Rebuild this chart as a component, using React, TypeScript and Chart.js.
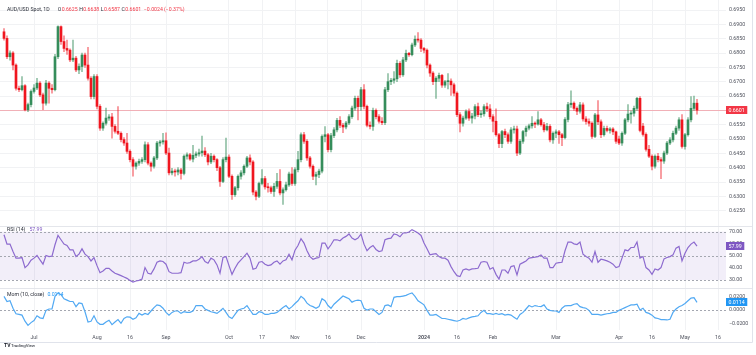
import React, { useEffect, useRef } from 'react';
import { Chart, registerables } from 'chart.js';

Chart.register(...registerables);

// ---- Daily AUD/USD candles (bar index 0 = first visible day) ----
const opens = [
  0.6874, 0.6851, 0.6787, 0.6800, 0.6758, 0.6677, 0.6672, 0.6686, 0.6602, 0.6620,
  0.6666, 0.6678, 0.6695, 0.6654, 0.6625, 0.6695, 0.6677, 0.6672, 0.6787, 0.6892,
  0.6840, 0.6816, 0.6810, 0.6776, 0.6782, 0.6741, 0.6753, 0.6793, 0.6758, 0.6712,
  0.6648, 0.6718, 0.6614, 0.6538, 0.6555, 0.6573, 0.6577, 0.6544, 0.6527, 0.6520,
  0.6498, 0.6486, 0.6457, 0.6428, 0.6405, 0.6416, 0.6422, 0.6428, 0.6480, 0.6416,
  0.6405, 0.6434, 0.6486, 0.6490, 0.6494, 0.6451, 0.6382, 0.6388, 0.6385, 0.6392,
  0.6380, 0.6440, 0.6445, 0.6430, 0.6443, 0.6448, 0.6452, 0.6458, 0.6445, 0.6420,
  0.6440, 0.6428, 0.6400, 0.6352, 0.6428, 0.6437, 0.6370, 0.6306, 0.6330, 0.6370,
  0.6382, 0.6405, 0.6434, 0.6420, 0.6315, 0.6300, 0.6345, 0.6362, 0.6333, 0.6330,
  0.6317, 0.6335, 0.6352, 0.6312, 0.6323, 0.6340, 0.6378, 0.6345, 0.6393, 0.6428,
  0.6515, 0.6492, 0.6434, 0.6405, 0.6370, 0.6376, 0.6388, 0.6509, 0.6515, 0.6463,
  0.6512, 0.6532, 0.6565, 0.6548, 0.6542, 0.6556, 0.6578, 0.6608, 0.6642, 0.6613,
  0.6672, 0.6614, 0.6548, 0.6544, 0.6600, 0.6578, 0.6562, 0.6557, 0.6672, 0.6700,
  0.6705, 0.6710, 0.6764, 0.6724, 0.6776, 0.6799, 0.6794, 0.6828, 0.6848, 0.6845,
  0.6816, 0.6810, 0.6758, 0.6730, 0.6700, 0.6712, 0.6722, 0.6688, 0.6700, 0.6702,
  0.6689, 0.6660, 0.6585, 0.6555, 0.6573, 0.6596, 0.6573, 0.6580, 0.6613, 0.6585,
  0.6588, 0.6613, 0.6605, 0.6578, 0.6562, 0.6515, 0.6484, 0.6526, 0.6515, 0.6492,
  0.6532, 0.6535, 0.6451, 0.6492, 0.6526, 0.6538, 0.6546, 0.6555, 0.6552, 0.6567,
  0.6550, 0.6532, 0.6544, 0.6497, 0.6520, 0.6525, 0.6515, 0.6505, 0.6568, 0.6620,
  0.6625, 0.6607, 0.6597, 0.6619, 0.6570, 0.6561, 0.6555, 0.6509, 0.6584, 0.6560,
  0.6515, 0.6537, 0.6530, 0.6535, 0.6525, 0.6500, 0.6486, 0.6520, 0.6567, 0.6587,
  0.6590, 0.6607, 0.6642, 0.6545, 0.6516, 0.6464, 0.6440, 0.6405, 0.6440, 0.6428,
  0.6423, 0.6451, 0.6486, 0.6497, 0.6520, 0.6538, 0.6567, 0.6474, 0.6515, 0.6567,
  0.6607, 0.6625,
];
const highs = [
  0.6885, 0.6860, 0.6808, 0.6805, 0.6762, 0.6685, 0.6718, 0.6690, 0.6625, 0.6672,
  0.6690, 0.6712, 0.6700, 0.6660, 0.6705, 0.6700, 0.6690, 0.6795, 0.6895, 0.6895,
  0.6860, 0.6845, 0.6815, 0.6845, 0.6788, 0.6762, 0.6800, 0.6800, 0.6820, 0.6718,
  0.6725, 0.6725, 0.6620, 0.6560, 0.6608, 0.6585, 0.6590, 0.6550, 0.6613, 0.6525,
  0.6505, 0.6520, 0.6462, 0.6435, 0.6420, 0.6430, 0.6435, 0.6490, 0.6488, 0.6420,
  0.6440, 0.6492, 0.6495, 0.6520, 0.6522, 0.6468, 0.6398, 0.6395, 0.6400, 0.6398,
  0.6445, 0.6452, 0.6450, 0.6478, 0.6455, 0.6465, 0.6510, 0.6470, 0.6450, 0.6450,
  0.6445, 0.6432, 0.6405, 0.6435, 0.6503, 0.6445, 0.6375, 0.6335, 0.6375, 0.6390,
  0.6410, 0.6440, 0.6445, 0.6425, 0.6320, 0.6350, 0.6393, 0.6370, 0.6345, 0.6336,
  0.6345, 0.6380, 0.6393, 0.6330, 0.6350, 0.6385, 0.6400, 0.6400, 0.6457, 0.6522,
  0.6523, 0.6498, 0.6440, 0.6410, 0.6385, 0.6395, 0.6515, 0.6543, 0.6520, 0.6520,
  0.6540, 0.6572, 0.6578, 0.6555, 0.6562, 0.6585, 0.6615, 0.6650, 0.6650, 0.6680,
  0.6690, 0.6618, 0.6560, 0.6608, 0.6605, 0.6585, 0.6575, 0.6680, 0.6728, 0.6712,
  0.6735, 0.6775, 0.6770, 0.6785, 0.6810, 0.6802, 0.6835, 0.6860, 0.6871, 0.6850,
  0.6820, 0.6815, 0.6762, 0.6735, 0.6718, 0.6730, 0.6726, 0.6705, 0.6728, 0.6710,
  0.6695, 0.6665, 0.6592, 0.6580, 0.6602, 0.6605, 0.6590, 0.6620, 0.6625, 0.6598,
  0.6620, 0.6625, 0.6620, 0.6585, 0.6605, 0.6520, 0.6530, 0.6535, 0.6522, 0.6540,
  0.6545, 0.6545, 0.6498, 0.6530, 0.6545, 0.6552, 0.6578, 0.6560, 0.6596, 0.6572,
  0.6558, 0.6555, 0.6550, 0.6525, 0.6532, 0.6530, 0.6520, 0.6575, 0.6628, 0.6668,
  0.6630, 0.6612, 0.6628, 0.6626, 0.6578, 0.6570, 0.6560, 0.6590, 0.6634, 0.6567,
  0.6545, 0.6545, 0.6540, 0.6540, 0.6528, 0.6510, 0.6525, 0.6572, 0.6620, 0.6598,
  0.6615, 0.6645, 0.6648, 0.6555, 0.6522, 0.6478, 0.6445, 0.6445, 0.6450, 0.6435,
  0.6458, 0.6492, 0.6505, 0.6528, 0.6545, 0.6575, 0.6585, 0.6520, 0.6575, 0.6648,
  0.6650, 0.6638,
];
const lows = [
  0.6845, 0.6780, 0.6775, 0.6741, 0.6670, 0.6665, 0.6668, 0.6598, 0.6595, 0.6612,
  0.6660, 0.6672, 0.6648, 0.6602, 0.6618, 0.6625, 0.6660, 0.6668, 0.6780, 0.6830,
  0.6805, 0.6795, 0.6770, 0.6770, 0.6735, 0.6728, 0.6735, 0.6750, 0.6705, 0.6640,
  0.6640, 0.6605, 0.6530, 0.6530, 0.6548, 0.6565, 0.6503, 0.6520, 0.6515, 0.6490,
  0.6478, 0.6450, 0.6420, 0.6370, 0.6395, 0.6408, 0.6415, 0.6420, 0.6410, 0.6388,
  0.6398, 0.6428, 0.6475, 0.6482, 0.6445, 0.6375, 0.6375, 0.6370, 0.6375, 0.6360,
  0.6375, 0.6430, 0.6425, 0.6420, 0.6435, 0.6440, 0.6440, 0.6438, 0.6410, 0.6414,
  0.6420, 0.6390, 0.6335, 0.6348, 0.6420, 0.6365, 0.6289, 0.6300, 0.6322, 0.6360,
  0.6375, 0.6400, 0.6410, 0.6305, 0.6288, 0.6295, 0.6340, 0.6325, 0.6315, 0.6310,
  0.6300, 0.6328, 0.6305, 0.6272, 0.6318, 0.6335, 0.6338, 0.6338, 0.6385, 0.6420,
  0.6485, 0.6425, 0.6398, 0.6358, 0.6340, 0.6365, 0.6382, 0.6490, 0.6455, 0.6455,
  0.6505, 0.6525, 0.6540, 0.6522, 0.6535, 0.6550, 0.6572, 0.6600, 0.6567, 0.6600,
  0.6605, 0.6542, 0.6535, 0.6530, 0.6570, 0.6555, 0.6550, 0.6550, 0.6665, 0.6690,
  0.6695, 0.6700, 0.6715, 0.6718, 0.6770, 0.6788, 0.6790, 0.6822, 0.6838, 0.6805,
  0.6800, 0.6748, 0.6718, 0.6690, 0.6642, 0.6700, 0.6680, 0.6680, 0.6675, 0.6652,
  0.6650, 0.6578, 0.6525, 0.6545, 0.6568, 0.6565, 0.6555, 0.6570, 0.6578, 0.6575,
  0.6580, 0.6595, 0.6570, 0.6525, 0.6510, 0.6470, 0.6470, 0.6505, 0.6485, 0.6485,
  0.6520, 0.6442, 0.6445, 0.6485, 0.6510, 0.6532, 0.6538, 0.6540, 0.6548, 0.6545,
  0.6525, 0.6528, 0.6490, 0.6485, 0.6505, 0.6485, 0.6477, 0.6500, 0.6560, 0.6610,
  0.6600, 0.6585, 0.6590, 0.6562, 0.6552, 0.6545, 0.6502, 0.6505, 0.6550, 0.6505,
  0.6510, 0.6525, 0.6520, 0.6515, 0.6485, 0.6480, 0.6478, 0.6515, 0.6560, 0.6555,
  0.6580, 0.6600, 0.6525, 0.6510, 0.6458, 0.6435, 0.6392, 0.6398, 0.6420, 0.6362,
  0.6415, 0.6445, 0.6480, 0.6490, 0.6515, 0.6530, 0.6468, 0.6465, 0.6510, 0.6560,
  0.6600, 0.6587,
];
const closes = [
  0.6851, 0.6787, 0.6800, 0.6758, 0.6677, 0.6672, 0.6686, 0.6602, 0.6620, 0.6666,
  0.6678, 0.6695, 0.6654, 0.6625, 0.6695, 0.6677, 0.6672, 0.6787, 0.6892, 0.6840,
  0.6816, 0.6810, 0.6776, 0.6782, 0.6741, 0.6753, 0.6793, 0.6758, 0.6712, 0.6648,
  0.6718, 0.6614, 0.6538, 0.6555, 0.6573, 0.6577, 0.6544, 0.6527, 0.6520, 0.6498,
  0.6486, 0.6457, 0.6428, 0.6405, 0.6416, 0.6422, 0.6428, 0.6480, 0.6416, 0.6405,
  0.6434, 0.6486, 0.6490, 0.6494, 0.6451, 0.6382, 0.6388, 0.6385, 0.6392, 0.6380,
  0.6440, 0.6445, 0.6430, 0.6443, 0.6448, 0.6452, 0.6458, 0.6445, 0.6420, 0.6440,
  0.6428, 0.6400, 0.6352, 0.6428, 0.6437, 0.6370, 0.6306, 0.6330, 0.6370, 0.6382,
  0.6405, 0.6434, 0.6420, 0.6315, 0.6300, 0.6345, 0.6362, 0.6333, 0.6330, 0.6317,
  0.6335, 0.6352, 0.6312, 0.6323, 0.6340, 0.6378, 0.6345, 0.6393, 0.6428, 0.6515,
  0.6492, 0.6434, 0.6405, 0.6370, 0.6376, 0.6388, 0.6509, 0.6515, 0.6463, 0.6512,
  0.6532, 0.6565, 0.6548, 0.6542, 0.6556, 0.6578, 0.6608, 0.6642, 0.6613, 0.6672,
  0.6614, 0.6548, 0.6544, 0.6600, 0.6578, 0.6562, 0.6557, 0.6672, 0.6700, 0.6705,
  0.6710, 0.6764, 0.6724, 0.6776, 0.6799, 0.6794, 0.6828, 0.6848, 0.6845, 0.6816,
  0.6810, 0.6758, 0.6730, 0.6700, 0.6712, 0.6722, 0.6688, 0.6700, 0.6702, 0.6689,
  0.6660, 0.6585, 0.6555, 0.6573, 0.6596, 0.6573, 0.6580, 0.6613, 0.6585, 0.6588,
  0.6613, 0.6605, 0.6578, 0.6562, 0.6515, 0.6484, 0.6526, 0.6515, 0.6492, 0.6532,
  0.6535, 0.6451, 0.6492, 0.6526, 0.6538, 0.6546, 0.6555, 0.6552, 0.6567, 0.6550,
  0.6532, 0.6544, 0.6497, 0.6520, 0.6525, 0.6515, 0.6505, 0.6568, 0.6620, 0.6625,
  0.6607, 0.6597, 0.6619, 0.6570, 0.6561, 0.6555, 0.6509, 0.6584, 0.6560, 0.6515,
  0.6537, 0.6530, 0.6535, 0.6525, 0.6492, 0.6486, 0.6520, 0.6567, 0.6587, 0.6590,
  0.6607, 0.6642, 0.6530, 0.6516, 0.6464, 0.6440, 0.6405, 0.6440, 0.6428, 0.6423,
  0.6451, 0.6486, 0.6497, 0.6520, 0.6538, 0.6567, 0.6474, 0.6515, 0.6567, 0.6607,
  0.6625, 0.6601,
];

// ---- RSI (14) ----
const rsiValues = [
  67.5, 59.7, 59.7, 53.6, 48.1, 48.1, 48.6, 40.3, 42.5, 46.4,
  48.1, 50.3, 46.7, 43.1, 50.3, 49.4, 49.7, 59.2, 66.9, 63.3,
  59.7, 58.6, 55.0, 55.0, 49.4, 51.4, 55.8, 51.4, 49.4, 45.8,
  48.6, 41.9, 36.1, 37.5, 39.7, 39.7, 37.5, 35.6, 34.7, 33.6,
  32.5, 31.4, 29.7, 28.3, 29.2, 29.7, 30.8, 40.3, 35.6, 35.0,
  39.2, 44.7, 45.8, 45.3, 43.1, 36.9, 35.6, 35.6, 35.6, 36.1,
  44.7, 43.9, 44.4, 45.8, 45.8, 47.2, 49.4, 45.3, 43.9, 48.1,
  46.7, 42.5, 35.6, 48.6, 49.4, 41.9, 34.7, 39.7, 43.9, 46.7,
  49.4, 52.2, 48.1, 38.9, 39.7, 44.7, 45.3, 43.1, 41.9, 42.5,
  44.7, 45.8, 43.1, 45.8, 46.7, 51.4, 46.7, 54.7, 58.6, 64.2,
  60.6, 54.2, 49.4, 47.2, 48.1, 48.6, 60.6, 60.6, 55.8, 59.2,
  63.3, 63.3, 62.5, 64.7, 66.1, 68.1, 64.7, 63.3, 64.7, 68.1,
  59.7, 54.2, 56.9, 58.6, 55.3, 53.6, 54.2, 63.3, 64.2, 64.7,
  68.1, 67.5, 65.8, 68.9, 68.9, 69.7, 71.7, 70.3, 68.9, 66.9,
  60.6, 55.8, 50.8, 51.4, 51.9, 49.4, 48.1, 48.1, 46.4, 41.1,
  36.9, 33.6, 32.8, 38.3, 39.2, 38.3, 39.2, 39.4, 39.7, 44.7,
  45.3, 44.7, 38.9, 40.3, 34.7, 30.8, 38.3, 38.3, 35.6, 41.1,
  41.9, 34.2, 43.1, 44.4, 45.8, 48.1, 48.6, 48.9, 49.4, 50.8,
  48.1, 48.1, 40.3, 40.3, 43.9, 44.4, 44.7, 54.2, 61.4, 61.4,
  59.9, 59.4, 61.4, 51.4, 49.4, 48.1, 44.7, 53.6, 44.7, 47.2,
  46.7, 45.8, 44.7, 43.1, 40.3, 41.1, 48.1, 55.0, 54.2, 56.9,
  56.9, 61.4, 48.1, 49.4, 40.3, 38.3, 34.7, 39.2, 38.3, 40.3,
  47.5, 48.6, 49.4, 50.8, 56.4, 57.8, 45.8, 52.2, 56.9, 59.7,
  61.4, 57.99,
];

// ---- Momentum (10, close) ----
const momValues = [
  0.0205, 0.0128, 0.0139, 0.0026, -0.0056, -0.0067, -0.0077, -0.0169, -0.0231, -0.0190,
  -0.0159, -0.0087, -0.0118, -0.0128, -0.0005, 0.0015, 0.0015, 0.0205, 0.0257, 0.0231,
  0.0169, 0.0149, 0.0128, 0.0128, 0.0051, 0.0108, 0.0097, -0.0026, -0.0180, -0.0169,
  -0.0087, -0.0180, -0.0215, -0.0215, -0.0180, -0.0154, -0.0221, -0.0180, -0.0144, -0.0200,
  -0.0128, -0.0103, -0.0108, -0.0139, -0.0118, -0.0051, -0.0077, -0.0051, -0.0067, -0.0015,
  0.0036, 0.0077, 0.0067, 0.0026, -0.0036, -0.0077, -0.0036, -0.0015, -0.0015, -0.0051,
  -0.0026, -0.0036, -0.0036, -0.0015, 0.0067, 0.0067, 0.0067, 0.0015, -0.0005, -0.0026,
  -0.0036, -0.0051, -0.0015, 0.0026, -0.0036, -0.0103, -0.0128, -0.0067, -0.0005, 0.0015,
  0.0026, 0.0067, 0.0000, -0.0067, -0.0067, -0.0026, -0.0036, -0.0067, -0.0067, -0.0051,
  -0.0051, -0.0036, 0.0000, 0.0036, 0.0067, 0.0015, 0.0051, 0.0097, 0.0139, 0.0205,
  0.0169, 0.0103, 0.0067, 0.0051, 0.0026, 0.0051, 0.0169, 0.0139, 0.0067, 0.0026,
  0.0087, 0.0128, 0.0169, 0.0210, 0.0190, 0.0169, 0.0118, 0.0139, 0.0149, 0.0139,
  0.0026, 0.0000, 0.0015, 0.0015, -0.0026, -0.0067, -0.0036, 0.0067, 0.0077, 0.0051,
  0.0190, 0.0200, 0.0200, 0.0210, 0.0221, 0.0241, 0.0257, 0.0205, 0.0139, 0.0108,
  0.0077, -0.0005, -0.0077, -0.0077, -0.0067, -0.0097, -0.0128, -0.0128, -0.0139, -0.0149,
  -0.0159, -0.0169, -0.0154, -0.0128, -0.0139, -0.0118, -0.0103, -0.0097, -0.0087, -0.0036,
  -0.0005, -0.0056, -0.0056, -0.0067, -0.0051, -0.0067, -0.0056, -0.0077, -0.0067, -0.0077,
  -0.0108, -0.0139, -0.0067, -0.0036, 0.0015, 0.0067, 0.0046, 0.0067, 0.0056, 0.0051,
  0.0077, 0.0015, -0.0005, -0.0015, -0.0015, -0.0036, 0.0026, 0.0062, 0.0067, 0.0067,
  0.0087, 0.0097, 0.0051, 0.0036, 0.0026, -0.0005, -0.0067, -0.0067, -0.0067, -0.0077,
  -0.0067, -0.0056, -0.0051, -0.0036, -0.0036, -0.0005, 0.0015, 0.0036, 0.0056, 0.0077,
  0.0077, 0.0087, 0.0000, 0.0026, -0.0036, -0.0051, -0.0077, -0.0118, -0.0128, -0.0144,
  -0.0144, -0.0150, -0.0139, -0.0036, 0.0015, 0.0050, 0.0067, 0.0097, 0.0139, 0.0180,
  0.0185, 0.0114,
];

// ---- Axis ticks ----
const priceTicks = [0.625, 0.63, 0.635, 0.64, 0.645, 0.65, 0.655, 0.66, 0.665, 0.67, 0.675, 0.68, 0.685, 0.69, 0.695];
const rsiTicks = [30, 40, 50, 60, 70];
const rsiBandLevels = [70, 50, 30];
const momTicks = [-0.02, 0, 0.02];
const timeTickIndex = [10, 31, 42, 54, 75, 86, 97, 108, 119, 140, 151, 163, 184, 205, 216, 227, 238];
const timeTickLabels = ['Jul', 'Aug', '16', 'Sep', 'Oct', '17', 'Nov', '16', 'Dec', '2024', '16', 'Feb', 'Mar', 'Apr', '16', 'May', '16'];

// ---- Header texts ----
const symbolTitle = 'AUD/USD Spot, 1D';
const ohlcLetters = ['O', 'H', 'L', 'C'];
const ohlcValues = [0.6625, 0.6638, 0.6587, 0.6601];
const changeText = '\u22120.0024 (\u22120.37%)';
const rsiTitle = 'RSI (14)';
const momTitle = 'Mom (10, close)';

const FONT = 'Roboto, "Liberation Sans", Arial, sans-serif';
const UP = '#358d5b';
const DOWN = '#f0161f';
const UP_WICK = 'rgba(53,141,91,0.55)';
const DOWN_WICK = 'rgba(240,22,31,0.5)';
const TEXT = '#2a2e39';
const AXIS_TEXT = '#50535e';
const GRID = '#f1f2f4';
const RSI_COLOR = '#7e57c2';
const RSI_LINE = '#8d6bcf';
const MOM_COLOR = '#2196f3';
const MOM_LINE = '#51a9f3';
const PRICE_RED = '#f23645';
const PLOT_RIGHT = 726;
const AXIS_W = 30;

const fmtSigned = (v: number, d: number) => (v < 0 ? '\u2212' + Math.abs(v).toFixed(d) : v.toFixed(d));

export default function App() {
  const ref = useRef<HTMLCanvasElement>(null);

  useEffect(() => {
    const canvas = ref.current;
    if (!canvas) return;
    const n = closes.length;
    const isUp = closes.map((c, i) => c >= opens[i]);
    const lastClose = closes[n - 1];
    const lastRsi = rsiValues[n - 1];
    const lastMom = momValues[n - 1];

    const overlay = {
      id: 'overlay',
      beforeDatasetsDraw(chart: any) {
        const { ctx, chartArea: ca, scales } = chart;
        const r = scales.rsi;
        const m = scales.mom;
        const y = scales.y;
        ctx.save();
        const y70 = r.getPixelForValue(70);
        const y30 = r.getPixelForValue(30);
        ctx.fillStyle = 'rgba(126,87,194,0.1)';
        ctx.fillRect(ca.left, y70, ca.right - ca.left, y30 - y70);
        ctx.setLineDash([2, 2]);
        ctx.strokeStyle = '#a4a7b0';
        ctx.lineWidth = 1;
        for (const lv of rsiBandLevels) {
          const py = Math.round(r.getPixelForValue(lv)) + 0.5;
          ctx.beginPath();
          ctx.moveTo(ca.left, py);
          ctx.lineTo(ca.right, py);
          ctx.stroke();
        }
        const pz = Math.round(m.getPixelForValue(0)) + 0.5;
        ctx.beginPath();
        ctx.moveTo(ca.left, pz);
        ctx.lineTo(ca.right, pz);
        ctx.stroke();
        ctx.setLineDash([]);
        const pp = Math.round(y.getPixelForValue(lastClose)) + 0.5;
        ctx.strokeStyle = 'rgba(242,54,69,0.35)';
        ctx.beginPath();
        ctx.moveTo(ca.left, pp);
        ctx.lineTo(ca.right, pp);
        ctx.stroke();
        ctx.restore();
      },
      afterDraw(chart: any) {
        const { ctx, scales } = chart;
        ctx.save();
        ctx.strokeStyle = '#e4e6eb';
        ctx.lineWidth = 1;
        const sep1 = Math.round(scales.y.bottom) + 0.5;
        const sep2 = Math.round(scales.rsi.bottom) + 0.5;
        for (const sy of [sep1, sep2]) {
          ctx.beginPath();
          ctx.moveTo(0, sy);
          ctx.lineTo(752, sy);
          ctx.stroke();
        }
        ctx.strokeStyle = '#e0e3eb';
        ctx.beginPath();
        ctx.moveTo(752.5, 0);
        ctx.lineTo(752.5, 342.5);
        ctx.lineTo(0, 342.5);
        ctx.stroke();

        ctx.textBaseline = 'middle';
        ctx.textAlign = 'left';
        const box = (py: number, text: string, bg: string) => {
          ctx.font = `5.3px ${FONT}`;
          const w = ctx.measureText(text).width + 5;
          ctx.fillStyle = bg;
          ctx.fillRect(PLOT_RIGHT, Math.round(py) - 4, w, 8);
          ctx.fillStyle = '#ffffff';
          ctx.fillText(text, PLOT_RIGHT + 2.5, Math.round(py) + 0.3);
        };
        box(scales.y.getPixelForValue(lastClose), lastClose.toFixed(4), PRICE_RED);
        box(scales.rsi.getPixelForValue(lastRsi), lastRsi.toFixed(2), RSI_COLOR);
        box(scales.mom.getPixelForValue(lastMom), fmtSigned(lastMom, 4), MOM_COLOR);

        ctx.font = `5.2px ${FONT}`;
        let x = 7;
        const hy = 10;
        ctx.fillStyle = TEXT;
        ctx.fillText(symbolTitle, x, hy);
        x += ctx.measureText(symbolTitle).width + 8;
        ohlcLetters.forEach((L, k) => {
          ctx.fillStyle = TEXT;
          ctx.fillText(L, x, hy);
          x += ctx.measureText(L).width + 0.4;
          const v = ohlcValues[k].toFixed(4);
          ctx.fillStyle = PRICE_RED;
          ctx.fillText(v, x, hy);
          x += ctx.measureText(v).width + 1.6;
        });
        ctx.fillStyle = PRICE_RED;
        ctx.fillText(changeText, x + 1, hy);

        const ly1 = Math.round(scales.rsi.top) + 3.5;
        ctx.fillStyle = TEXT;
        ctx.fillText(rsiTitle, 7, ly1);
        let wx = 7 + ctx.measureText(rsiTitle).width + 4;
        ctx.fillStyle = RSI_COLOR;
        ctx.fillText(lastRsi.toFixed(2), wx, ly1);

        const ly2 = Math.round(scales.mom.top) + 7;
        ctx.fillStyle = TEXT;
        ctx.fillText(momTitle, 7, ly2);
        wx = 7 + ctx.measureText(momTitle).width + 3;
        ctx.fillStyle = MOM_COLOR;
        ctx.fillText(fmtSigned(lastMom, 4), wx, ly2);

        ctx.fillStyle = '#131722';
        ctx.font = `bold 5px ${FONT}`;
        ctx.fillText('TV', 4, 346);
        ctx.font = `4.4px ${FONT}`;
        ctx.fillText('TradingView', 11, 346);
        ctx.restore();
      },
    };

    const yBase = (extra: any) => ({
      type: 'linear',
      position: 'right',
      stack: 'panes',
      offset: false,
      border: { display: false },
      grid: { drawTicks: false, color: GRID, lineWidth: 1 },
      ticks: { color: AXIS_TEXT, font: { size: 5.3, family: FONT }, padding: 3, autoSkip: false },
      afterFit: (s: any) => {
        s.width = AXIS_W;
        s.paddingTop = 0;
        s.paddingBottom = 0;
      },
      ...extra,
    });

    const chart = new Chart(canvas, {
      type: 'bar',
      data: {
        datasets: [
          {
            type: 'bar',
            label: 'body',
            data: opens.map((o, i) => ({ x: i, y: [o, closes[i]] })) as any,
            backgroundColor: isUp.map((u) => (u ? UP : DOWN)),
            borderWidth: 0,
            barThickness: 2,
            minBarLength: 1,
            grouped: false,
            xAxisID: 'x',
            yAxisID: 'y',
            order: 1,
          } as any,
          {
            type: 'bar',
            label: 'wick',
            data: lows.map((l, i) => ({ x: i, y: [l, highs[i]] })) as any,
            backgroundColor: isUp.map((u) => (u ? UP_WICK : DOWN_WICK)),
            borderWidth: 0,
            barThickness: 1,
            grouped: false,
            xAxisID: 'x',
            yAxisID: 'y',
            order: 2,
          } as any,
          {
            type: 'line',
            label: 'RSI',
            data: rsiValues.map((v, i) => ({ x: i, y: v })) as any,
            borderColor: RSI_LINE,
            borderWidth: 1.2,
            pointRadius: 0,
            tension: 0,
            fill: false,
            xAxisID: 'x',
            yAxisID: 'rsi',
            order: 0,
          } as any,
          {
            type: 'line',
            label: 'Mom',
            data: momValues.map((v, i) => ({ x: i, y: v })) as any,
            borderColor: MOM_LINE,
            borderWidth: 1.2,
            pointRadius: 0,
            tension: 0,
            fill: false,
            xAxisID: 'x',
            yAxisID: 'mom',
            order: 0,
          } as any,
        ],
      },
      options: {
        animation: false,
        responsive: false,
        devicePixelRatio: 1,
        events: [],
        layout: { padding: { left: 0, right: 0, top: 0, bottom: 13 } },
        plugins: { legend: { display: false }, tooltip: { enabled: false } },
        scales: {
          x: {
            type: 'linear',
            position: 'bottom',
            min: -4 / 3,
            max: (PLOT_RIGHT - 4) / 3,
            offset: false,
            border: { display: false },
            grid: { drawTicks: false, color: GRID, offset: false },
            ticks: {
              color: AXIS_TEXT,
              autoSkip: false,
              maxRotation: 0,
              minRotation: 0,
              padding: 4,
              font: (c: any) => ({
                size: 5.3,
                family: FONT,
                weight: timeTickLabels[c.index] === '2024' ? 'bold' : 'normal',
              }),
              callback: (_v: any, idx: number) => timeTickLabels[idx],
            },
            afterBuildTicks: (s: any) => {
              s.ticks = timeTickIndex.map((v) => ({ value: v }));
            },
            afterFit: (s: any) => {
              s.height = 12;
              s.paddingLeft = 0;
              s.paddingRight = 0;
            },
          },
          y: yBase({
            stackWeight: 226,
            min: 0.61966,
            max: 0.69849,
            afterBuildTicks: (s: any) => {
              s.ticks = priceTicks.map((v) => ({ value: v }));
            },
            ticks: {
              color: AXIS_TEXT,
              font: { size: 5.3, family: FONT },
              padding: 3,
              autoSkip: false,
              callback: (v: any) => Number(v).toFixed(4),
            },
          }),
          rsi: yBase({
            stackWeight: 62,
            min: 23.4,
            max: 74.7,
            grid: { display: false, drawTicks: false },
            afterBuildTicks: (s: any) => {
              s.ticks = rsiTicks.map((v) => ({ value: v }));
            },
            ticks: {
              color: AXIS_TEXT,
              font: { size: 5.3, family: FONT },
              padding: 3,
              autoSkip: false,
              callback: (v: any) => Number(v).toFixed(2),
            },
          }),
          mom: yBase({
            stackWeight: 42,
            min: -0.0301,
            max: 0.0331,
            grid: { display: false, drawTicks: false },
            afterBuildTicks: (s: any) => {
              s.ticks = momTicks.map((v) => ({ value: v }));
            },
            ticks: {
              color: AXIS_TEXT,
              font: { size: 5.3, family: FONT },
              padding: 3,
              autoSkip: false,
              callback: (v: any) => fmtSigned(Number(v), 4),
            },
          }),
        } as any,
      },
      plugins: [overlay],
    } as any);

    return () => chart.destroy();
  }, []);

  return (
    <div style={{ position: 'fixed', left: 0, top: 0, width: 756, height: 355, background: '#ffffff' }}>
      <canvas ref={ref} width={756} height={355} style={{ display: 'block', width: 756, height: 355 }} />
    </div>
  );
}
